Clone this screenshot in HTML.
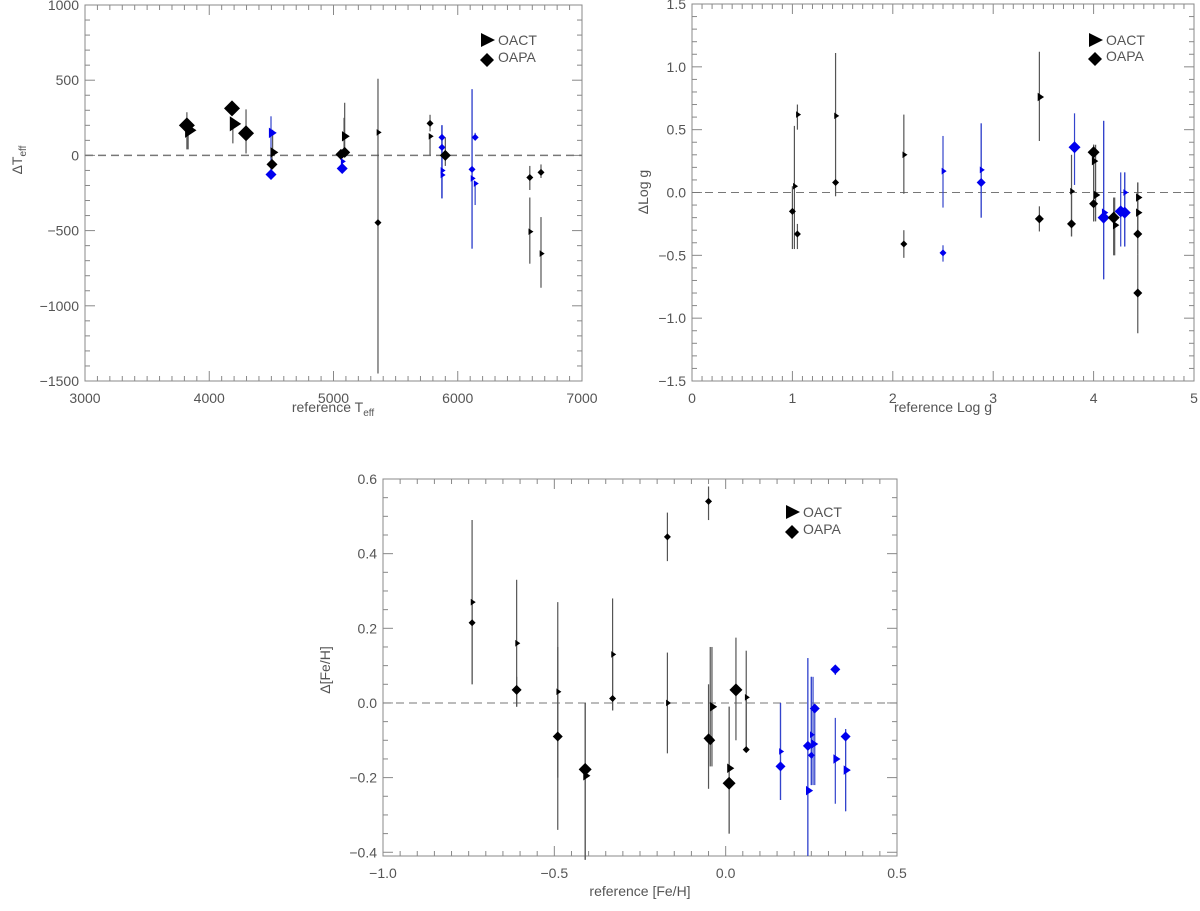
<!DOCTYPE html>
<html><head><meta charset="utf-8">
<style>
html,body{margin:0;padding:0;background:#fff;}
svg text{font-family:"Liberation Sans","DejaVu Sans",sans-serif;fill:#555;}
</style></head>
<body>
<svg id="fig" width="1200" height="906" viewBox="0 0 1200 906" xmlns="http://www.w3.org/2000/svg"></svg>
<script>
// ---- Panel 1: Teff ----
const p1x  = [3820,3830,4183,4190,4296,4497,4497,4510,4505,5085,5060,5090,5070,5070,5358,5358,5777,5777,5873,5873,5873,5873,5900,6115,6115,6140,6140,6580,6580,6670,6670];
const p1y  = [200,167,313,210,147,150,-127,20,-60,127,7,20,-40,-87,153,-447,213,127,120,53,-100,-130,0,-93,-153,120,-187,-147,-507,-113,-653];
const p1lo = [40,40,313,80,13,-130,-160,20,-60,0,-30,20,-60,-120,-1450,-447,160,0,-285,-285,-285,-285,-70,-620,-620,100,-330,-230,-720,-150,-880];
const p1hi = [287,167,313,210,306,260,-90,170,20,250,30,350,-40,-60,510,-447,270,127,200,200,200,200,120,440,440,150,-187,-70,-280,-60,-410];
const p1m  = ['d3','t3','d3','t3','d3','t2','d2','t2','d2','t2','d2','d2','t1','d2','t1','d1','d1','t1','d1','d1','t1','t1','d2','d1','t1','d1','t1','d1','t1','d1','t1'];
const p1c  = ['k','k','k','k','k','b','b','k','k','k','k','k','b','b','k','k','k','k','b','b','b','b','k','b','b','b','b','k','k','k','k'];
// ---- Panel 2: log g ----
const p2x  = [1.02,1.0,1.05,1.05,1.43,1.43,2.11,2.11,2.5,2.5,2.88,2.88,3.46,3.46,3.78,3.78,3.81,4.0,4.0,4.02,4.0,4.1,4.1,4.2,4.21,4.27,4.31,4.31,4.44,4.44,4.44,4.44];
const p2y  = [0.05,-0.15,0.62,-0.33,0.61,0.08,0.30,-0.41,0.17,-0.48,0.18,0.08,0.76,-0.21,0.01,-0.25,0.36,0.32,0.25,-0.02,-0.09,-0.16,-0.20,-0.20,-0.26,-0.15,-0.16,0.0,-0.04,-0.16,-0.33,-0.80];
const p2lo = [-0.45,-0.45,0.50,-0.45,0.08,-0.03,-0.01,-0.52,-0.12,-0.55,-0.20,-0.20,0.41,-0.31,-0.35,-0.35,0.06,-0.23,-0.23,-0.23,-0.23,-0.69,-0.69,-0.5,-0.5,-0.43,-0.43,-0.43,-0.30,-0.30,-0.49,-1.12];
const p2hi = [0.53,0.05,0.70,-0.25,1.11,0.08,0.62,-0.30,0.45,-0.42,0.55,0.55,1.12,-0.11,0.30,0.01,0.63,0.38,0.38,0.38,0.38,0.57,0.57,-0.04,-0.04,0.16,0.16,0.16,0.08,0.08,-0.33,-0.49];
const p2m  = ['t1','d1','t1','d1','t1','d1','t1','d1','t1','d1','t1','d2','t2','d2','t1','d2','d3','d3','t2','t2','d2','t2','d3','d3','t2','d3','d3','t1','t2','t2','d2','d2'];
const p2c  = ['k','k','k','k','k','k','k','k','b','b','b','b','k','k','k','k','b','k','k','k','k','b','b','k','k','b','b','b','k','k','k','k'];
// ---- Panel 3: [Fe/H] ----
const p3x  = [-0.74,-0.74,-0.61,-0.61,-0.49,-0.49,-0.41,-0.41,-0.33,-0.33,-0.17,-0.17,-0.05,-0.05,-0.04,-0.045,0.01,0.01,0.03,0.06,0.06,0.16,0.16,0.24,0.24,0.25,0.25,0.255,0.26,0.32,0.32,0.35,0.35];
const p3y  = [0.27,0.215,0.16,0.035,0.03,-0.09,-0.195,-0.178,0.13,0.012,0.445,0.0,0.54,-0.095,-0.01,-0.10,-0.175,-0.215,0.035,0.015,-0.125,-0.13,-0.17,-0.235,-0.115,-0.085,-0.14,-0.11,-0.015,0.09,-0.15,-0.09,-0.18];
const p3lo = [0.05,0.05,-0.01,-0.01,-0.34,-0.2,-0.42,-0.42,-0.02,-0.02,0.38,-0.135,0.49,-0.23,-0.17,-0.17,-0.35,-0.35,-0.1,-0.12,-0.125,-0.26,-0.26,-0.41,-0.41,-0.22,-0.22,-0.22,-0.22,0.075,-0.27,-0.29,-0.29];
const p3hi = [0.49,0.27,0.33,0.07,0.27,0.15,0.0,0.0,0.28,0.13,0.51,0.135,0.58,0.05,0.15,0.15,-0.01,-0.01,0.175,0.14,0.015,0.0,0.0,0.12,0.12,0.07,0.07,0.07,-0.015,0.1,-0.04,-0.07,-0.07];
const p3m  = ['t1','d1','t1','d2','t1','d2','t2','d3','t1','d1','d1','t1','d1','d2','t2','d2','t2','d3','d3','t1','d1','t1','d2','t2','d2','t1','d1','t2','d2','d2','t2','d2','t2'];
const p3c  = ['k','k','k','k','k','k','k','k','k','k','k','k','k','k','k','k','k','k','k','k','k','b','b','b','b','b','b','b','b','b','b','b','b'];

const NS='http://www.w3.org/2000/svg';
const svg=document.getElementById('fig');
function mk(tag,attrs,parent){const e=document.createElementNS(NS,tag);for(const k in attrs)e.setAttribute(k,attrs[k]);(parent||svg).appendChild(e);return e;}
const COL={k:'#000',b:'#0000ee'};
const ERR={k:'#555',b:'#3344cc'};

function panel(cfg){
  const g=mk('g',{});
  
  
  const {L,R,T,B,x0,x1,y0,y1}=cfg;
  const sx=v=>L+(v-x0)/(x1-x0)*(R-L);
  const sy=v=>B-(v-y0)/(y1-y0)*(B-T);
  const frame=mk('rect',{x:L,y:T,width:R-L,height:B-T,fill:'none',stroke:'#888','stroke-width':1},g);
  
  
  const xr=Math.round(cfg.xmajor/cfg.xminor);
  for(let k=Math.ceil(x0/cfg.xminor-1e-6);k<=Math.floor(x1/cfg.xminor+1e-6);k++){
    const v=k*cfg.xminor;const X=sx(v);
    const major=(k%xr)===0;
    const len=major?10:5;
    mk('line',{x1:X,y1:B,x2:X,y2:B-len,stroke:'#888'},g);
    mk('line',{x1:X,y1:T,x2:X,y2:T+len,stroke:'#888'},g);
    if(major){const t=mk('text',{x:X,y:B+22,'text-anchor':'middle','font-size':14},g);t.textContent=cfg.xfmt(v).replace('-','\u2212');
      }
  }
  const yr=Math.round(cfg.ymajor/cfg.yminor);
  for(let k=Math.ceil(y0/cfg.yminor-1e-6);k<=Math.floor(y1/cfg.yminor+1e-6);k++){
    const v=k*cfg.yminor;const Y=sy(v);
    const major=(k%yr)===0;
    const len=major?10:5;
    mk('line',{x1:L,y1:Y,x2:L+len,y2:Y,stroke:'#888'},g);
    mk('line',{x1:R,y1:Y,x2:R-len,y2:Y,stroke:'#888'},g);
    if(major){const t=mk('text',{x:L-6,y:Y+5,'text-anchor':'end','font-size':14},g);t.textContent=cfg.yfmt(v).replace('-','\u2212');
      }
  }
  const zl=mk('line',{x1:L,y1:sy(0),x2:R,y2:sy(0),stroke:'#777','stroke-dasharray':cfg.dash,'stroke-width':cfg.dashW},g);
  
  const d=cfg.data;
  for(let i=0;i<d.x.length;i++){
    const X=sx(d.x[i]);
    const eb=mk('line',{x1:X,y1:sy(d.lo[i]),x2:X,y2:sy(d.hi[i]),stroke:ERR[d.c[i]],'stroke-width':1.2},g);
    
  }
  for(let i=0;i<d.x.length;i++){
    const X=sx(d.x[i]),Y=sy(d.y[i]);
    const sz=cfg.sizes[+d.m[i][1]-1];
    let p;
    if(d.m[i][0]==='d'){
      p=mk('polygon',{points:`${X},${Y-sz} ${X+sz},${Y} ${X},${Y+sz} ${X-sz},${Y}`,fill:COL[d.c[i]]},g);
      
    }else{
      const s=sz*0.95;
      p=mk('polygon',{points:`${X-s*0.4},${Y-s} ${X+s*1.1},${Y} ${X-s*0.4},${Y+s}`,fill:COL[d.c[i]]},g);
      
    }
    
  }
  const [lx,ly,lg]=cfg.legend;
  const lt=mk('polygon',{points:`${lx-6},${ly-7} ${lx+8},${ly} ${lx-6},${ly+7}`,fill:'#000'},g);
  
  const t1=mk('text',{x:lx+11,y:ly+5,'font-size':14},g);t1.textContent='OACT';
  
  const y2=ly+lg;
  const ld=mk('polygon',{points:`${lx},${y2-7} ${lx+7},${y2} ${lx},${y2+7} ${lx-7},${y2}`,fill:'#000'},g);
  
  const t2=mk('text',{x:lx+11,y:y2+2,'font-size':14},g);t2.textContent='OAPA';
  
  return g;
}

panel({name:'teff-panel',L:85,R:582,T:5,B:381,x0:3000,x1:7000,y0:-1500,y1:1000,xmajor:1000,xminor:100,ymajor:500,yminor:100,
  xfmt:v=>String(v),yfmt:v=>String(v),dash:'8,5',dashW:1.5,sizes:[3.5,5.5,8],legend:[487,40,20],
  data:{x:p1x,y:p1y,lo:p1lo,hi:p1hi,m:p1m,c:p1c}});
panel({name:'logg-panel',L:692,R:1194,T:4,B:381,x0:0,x1:5,y0:-1.5,y1:1.5,xmajor:1,xminor:0.1,ymajor:0.5,yminor:0.1,
  xfmt:v=>String(Math.round(v)),yfmt:v=>v.toFixed(1),dash:'8,5',dashW:1,sizes:[3.5,4.5,6],legend:[1095,40,19],
  data:{x:p2x,y:p2y,lo:p2lo,hi:p2hi,m:p2m,c:p2c}});
panel({name:'feh-panel',L:383,R:897,T:479,B:856,x0:-1.0,x1:0.5,y0:-0.41,y1:0.6,xmajor:0.5,xminor:0.05,ymajor:0.2,yminor:0.05,
  xfmt:v=>v.toFixed(1),yfmt:v=>v.toFixed(1),dash:'8,5',dashW:1,sizes:[3.5,5,6.5],legend:[792,512,20],
  data:{x:p3x,y:p3y,lo:p3lo,hi:p3hi,m:p3m,c:p3c}});

function title(x,y,html,rot,name){
  const t=mk('text',{x:x,y:y,'text-anchor':'middle','font-size':14});
  if(rot)t.setAttribute('transform',`rotate(-90 ${x} ${y})`);
  t.innerHTML=html;
  
  
}
title(333,412,'reference T<tspan dy="4" font-size="10">eff</tspan>',false,'x-axis-title-teff');
title(22,160,'\u0394T<tspan dy="4" font-size="10">eff</tspan>',true,'y-axis-title-teff');
title(943,412,'reference Log g',false,'x-axis-title-logg');
title(648,192,'\u0394Log g',true,'y-axis-title-logg');
title(640,896,'reference [Fe/H]',false,'x-axis-title-feh');
title(330,670,'\u0394[Fe/H]',true,'y-axis-title-feh');
</script>
</body></html>
